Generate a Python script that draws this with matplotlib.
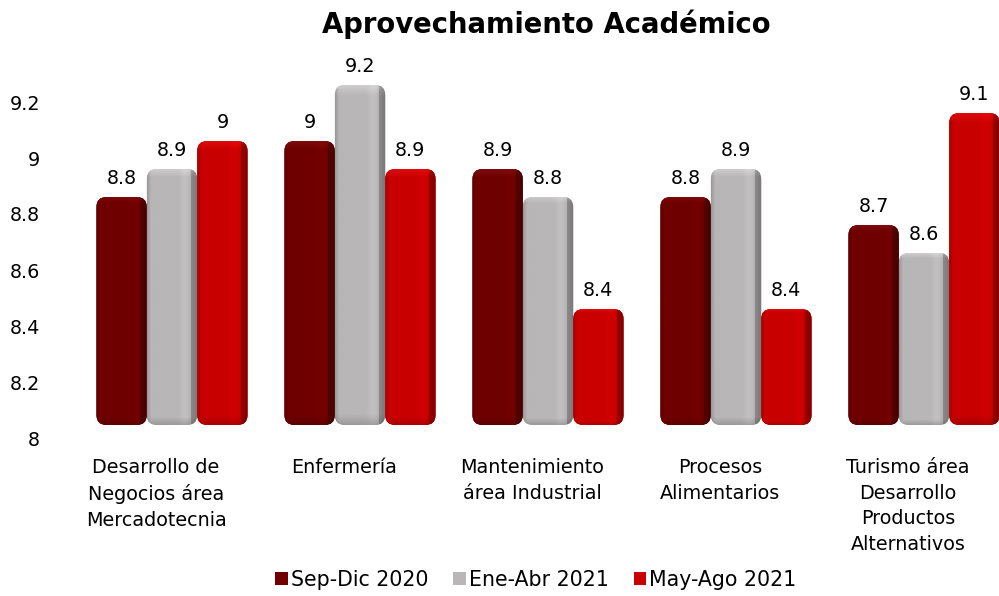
import numpy as np
import matplotlib
matplotlib.use("Agg")
import matplotlib.pyplot as plt
from matplotlib.patches import FancyBboxPatch, Patch
from matplotlib.transforms import ScaledTranslation

categories = ["Desarrollo de\nNegocios área\nMercadotecnia", "Enfermería",
              "Mantenimiento\nárea Industrial", "Procesos\nAlimentarios",
              "Turismo área\nDesarrollo\nProductos\nAlternativos"]
series_names = ["Sep-Dic 2020", "Ene-Abr 2021", "May-Ago 2021"]
sep_dic = [8.8, 9.0, 8.9, 8.8, 8.7]
ene_abr = [8.9, 9.2, 8.8, 8.9, 8.6]
may_ago = [9.0, 8.9, 8.4, 8.4, 9.1]
yticks = [8, 8.2, 8.4, 8.6, 8.8, 9, 9.2]
ytick_labels = ["8", "8.2", "8.4", "8.6", "8.8", "9", "9.2"]

colors = ["#6E0000", "#B8B6B6", "#C80000"]
series = [sep_dic, ene_abr, may_ago]

plt.rcParams['font.family'] = ['DejaVu Sans']
FS = 13.8
PX = 72 / 100  # points per pixel at 100 dpi

W, H = 999, 596
fig = plt.figure(figsize=(W / 100, H / 100), dpi=100)
ax_left = 78 / W
ax_width = 940 / W
ymin, ymax = 8.0, 9.3
ax_bottom = (H - 438) / H
ax_height = (ymax - ymin) * 280 / H
ax = fig.add_axes([ax_left, ax_bottom, ax_width, ax_height])
ax.set_xlim(-0.5, 4.5)
ax.set_ylim(ymin, ymax)
for s in ax.spines.values():
    s.set_visible(False)
ax.set_xticks([])
ax.set_yticks(yticks)
ax.set_yticklabels(ytick_labels, fontsize=FS)
ax.tick_params(axis='y', length=0, pad=38 * PX)

# pseudo-3D: the bars sit slightly above the value axis
shift = ScaledTranslation(0, 17 / 100, fig.dpi_scale_trans)
tr = ax.transData + shift
base_drop = 4 / 280.0  # extend the bar foot a little below the floor

bw = 0.268
px_per_x = 188.0
px_per_y = 280.0
r = 10 / px_per_x
asp = px_per_x / px_per_y


def shade_image(color, nx=100, ny=300):
    c = np.array(matplotlib.colors.to_rgb(color))
    u = np.linspace(0, 1, nx)
    v = np.linspace(0, 1, ny)
    front = (1.0 - 0.16 * np.clip((0.08 - u) / 0.08, 0, 1)
             + 0.05 * np.exp(-((u - 0.74) / 0.08) ** 2))
    side = 0.76 - 0.10 * (u - 0.86) / 0.14
    fx = np.where(u < 0.86, front, side)
    fy = 1.0 - 0.15 * np.clip((0.03 - v) / 0.03, 0, 1)
    top = np.clip((v - 0.97) / 0.03, 0, 1)
    F = fy[:, None] * fx[None, :] + 0.06 * top[:, None]
    img = np.clip(c[None, None, :] * F[:, :, None] + 0.04 * top[:, None, None], 0, 1)
    return img


for si, (vals, col) in enumerate(zip(series, colors)):
    img = shade_image(col)
    for gi, val in enumerate(vals):
        xc = gi + (si - 1) * bw
        x0 = xc - bw / 2
        y0 = ymin - base_drop
        patch = FancyBboxPatch((x0, y0), bw, val - y0,
                               boxstyle=f"round,pad=0,rounding_size={r}",
                               mutation_aspect=asp, transform=tr,
                               facecolor=col, edgecolor='none', zorder=2)
        ax.add_patch(patch)
        im = ax.imshow(img, extent=(x0, x0 + bw, y0, val), origin='lower',
                       aspect='auto', interpolation='bilinear', transform=tr,
                       zorder=3)
        im.set_clip_path(patch)
        ax.annotate(f"{val:g}", (xc, val), xytext=(0, 30 * PX), textcoords='offset points',
                    ha='center', va='baseline', fontsize=FS, color='black', zorder=5,
                    annotation_clip=False)

ax.set_xlim(-0.5, 4.5)
ax.set_ylim(ymin, ymax)

lab_tr = ax.transData + ScaledTranslation(-16 / 100, -20 / 100, fig.dpi_scale_trans)
for gi, cat in enumerate(categories):
    ax.text(gi, ymin, cat, transform=lab_tr, ha='center', va='top', fontsize=FS,
            linespacing=1.45)

fig.text(546 / W, 1 - 33 / H, "Aprovechamiento Académico", ha='center', va='baseline',
         fontsize=19.8, fontweight='bold')

handles = [Patch(facecolor=c, edgecolor='none') for c in colors]
fig.legend(handles, series_names, loc='center', bbox_to_anchor=(536 / W, 1 - 580 / H),
           ncol=3, frameon=False, fontsize=14.8, handlelength=0.62, handleheight=0.62,
           handletextpad=0.15, columnspacing=1.2)

fig.savefig("out.png", dpi=100)
